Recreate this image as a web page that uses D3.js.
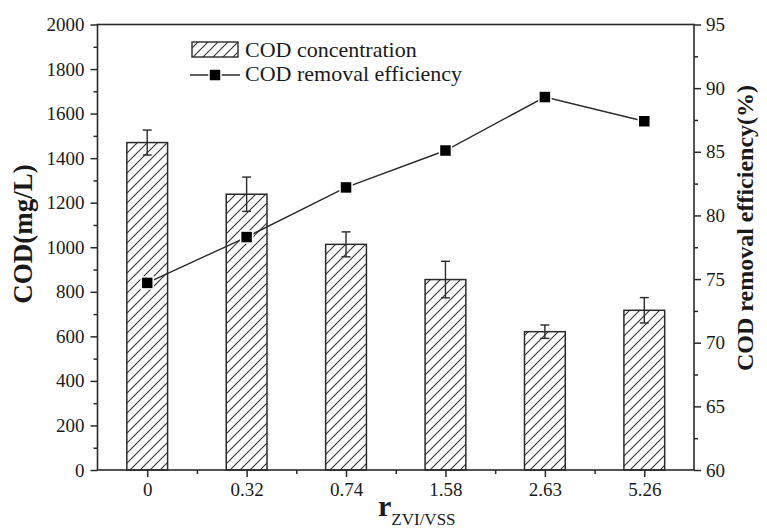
<!DOCTYPE html>
<html>
<head>
<meta charset="utf-8">
<script src="https://cdn.jsdelivr.net/npm/d3@7"></script>
<style>
  body { margin: 0; background: #fff; }
  svg { display: block; }
  text { font-family: "Liberation Serif", "Times New Roman", serif; fill: #1a1a1a; }
</style>
</head>
<body>
<div id="chart-area"></div>
<script>
// data
const categories = ["0", "0.32", "0.74", "1.58", "2.63", "5.26"]
const codValues = [1470, 1238, 1013, 855, 621, 717]
const codErrors = [56, 77, 56, 82, 30, 57]
const removalValues = [74.7, 78.3, 82.2, 85.1, 89.3, 87.4]
const leftTicks = [0, 200, 400, 600, 800, 1000, 1200, 1400, 1600, 1800, 2000]
const rightTicks = [60, 65, 70, 75, 80, 85, 90, 95]

const svgWidth = 767
const svgHeight = 529
const plot = { left: 97.5, right: 694, top: 24.5, bottom: 470 }
const ink = "#2a2a2a"
const serif = "Liberation Serif, Times New Roman, serif"

const svg = d3.select("#chart-area")
  .append("svg")
  .attr("width", svgWidth)
  .attr("height", svgHeight)
  .attr("font-family", serif)

// hatch for the bars
svg.append("defs").append("pattern")
  .attr("id", "hatch")
  .attr("patternUnits", "userSpaceOnUse")
  .attr("width", 10)
  .attr("height", 10)
  .call(p => p.append("rect").attr("width", 10).attr("height", 10).attr("fill", "#fff"))
  .call(p => p.append("path")
    .attr("d", "M-2,2 L2,-2 M0,10 L10,0 M8,12 L12,8")
    .attr("stroke", "#333")
    .attr("stroke-width", 1.1))

const xScale = d3.scaleLinear()
  .domain([-0.5, categories.length - 0.5])
  .range([plot.left, plot.right])

const yScale = d3.scaleLinear()
  .domain([0, 2000])
  .range([plot.bottom, plot.top])

const y2Scale = d3.scaleLinear()
  .domain([60, 95])
  .range([plot.bottom, plot.top])

const barWidth = xScale(0.41) - xScale(0)

// bars
svg.append("g")
  .selectAll("rect")
  .data(codValues)
  .join("rect")
  .attr("x", (d, i) => xScale(i) - barWidth / 2)
  .attr("y", d => yScale(d))
  .attr("width", barWidth)
  .attr("height", d => yScale(0) - yScale(d))
  .attr("fill", "url(#hatch)")
  .attr("stroke", ink)
  .attr("stroke-width", 1.5)

// error bars
const err = svg.append("g")
  .attr("stroke", ink)
  .attr("stroke-width", 1.4)
  .selectAll("g")
  .data(codValues)
  .join("g")

err.append("line")
  .attr("x1", (d, i) => xScale(i))
  .attr("x2", (d, i) => xScale(i))
  .attr("y1", (d, i) => yScale(d + codErrors[i]))
  .attr("y2", (d, i) => yScale(d - codErrors[i]))

err.append("line")
  .attr("x1", (d, i) => xScale(i) - 4.5)
  .attr("x2", (d, i) => xScale(i) + 4.5)
  .attr("y1", (d, i) => yScale(d + codErrors[i]))
  .attr("y2", (d, i) => yScale(d + codErrors[i]))

err.append("line")
  .attr("x1", (d, i) => xScale(i) - 4.5)
  .attr("x2", (d, i) => xScale(i) + 4.5)
  .attr("y1", (d, i) => yScale(d - codErrors[i]))
  .attr("y2", (d, i) => yScale(d - codErrors[i]))

// removal efficiency line
const line = d3.line()
  .x((d, i) => xScale(i))
  .y(d => y2Scale(d))

svg.append("path")
  .datum(removalValues)
  .attr("d", line)
  .attr("fill", "none")
  .attr("stroke", ink)
  .attr("stroke-width", 1.4)

svg.append("g")
  .selectAll("rect")
  .data(removalValues)
  .join("rect")
  .attr("x", (d, i) => xScale(i) - 6)
  .attr("y", d => y2Scale(d) - 6)
  .attr("width", 12)
  .attr("height", 12)
  .attr("fill", "#000")
  .attr("stroke", "#fff")
  .attr("stroke-width", 1.5)

// frame
svg.append("rect")
  .attr("x", plot.left)
  .attr("y", plot.top)
  .attr("width", plot.right - plot.left)
  .attr("height", plot.bottom - plot.top)
  .attr("fill", "none")
  .attr("stroke", ink)
  .attr("stroke-width", 1.6)

function styleAxis(g) {
  g.attr("font-family", serif).attr("font-size", 19)
  g.select(".domain").remove()
  g.selectAll("line").attr("stroke", ink).attr("stroke-width", 1.5)
  g.selectAll("text").attr("fill", "#1a1a1a")
}

// left axis
svg.append("g")
  .attr("transform", `translate(${plot.left},0)`)
  .call(d3.axisLeft(yScale).tickValues(leftTicks).tickFormat(d3.format("d")).tickSize(7).tickPadding(6))
  .call(styleAxis)

svg.append("g")
  .attr("transform", `translate(${plot.left},0)`)
  .call(d3.axisLeft(yScale).tickValues(leftTicks.slice(1).map(d => d - 100)).tickSize(4).tickFormat(""))
  .call(styleAxis)

// right axis
svg.append("g")
  .attr("transform", `translate(${plot.right},0)`)
  .call(d3.axisRight(y2Scale).tickValues(rightTicks).tickSize(7).tickPadding(5))
  .call(styleAxis)

svg.append("g")
  .attr("transform", `translate(${plot.right},0)`)
  .call(d3.axisRight(y2Scale).tickValues(rightTicks.slice(1).map(d => d - 2.5)).tickSize(4).tickFormat(""))
  .call(styleAxis)

// bottom axis
svg.append("g")
  .attr("transform", `translate(0,${plot.bottom})`)
  .call(d3.axisBottom(xScale).tickValues(d3.range(categories.length))
    .tickFormat(i => categories[i]).tickSize(7).tickPadding(6))
  .call(styleAxis)

svg.append("g")
  .attr("transform", `translate(0,${plot.bottom})`)
  .call(d3.axisBottom(xScale).tickValues(d3.range(categories.length - 1).map(i => i + 0.5))
    .tickSize(4).tickFormat(""))
  .call(styleAxis)

// axis titles
svg.append("text")
  .attr("transform", `translate(32,234) rotate(-90)`)
  .attr("text-anchor", "middle")
  .attr("font-size", 27)
  .attr("font-weight", "bold")
  .text("COD(mg/L)")

svg.append("text")
  .attr("transform", `translate(753,228) rotate(-90)`)
  .attr("text-anchor", "middle")
  .attr("font-size", 24)
  .attr("font-weight", "bold")
  .text("COD removal efficiency(%)")

const xTitle = svg.append("text")
  .attr("x", 378)
  .attr("y", 516)
  .attr("font-size", 30)
  .attr("font-weight", "bold")

xTitle.append("tspan").text("r")
xTitle.append("tspan")
  .attr("font-size", 17)
  .attr("font-weight", "normal")
  .attr("dy", 9)
  .text("ZVI/VSS")

// legend
const legend = svg.append("g")

legend.append("rect")
  .attr("x", 192)
  .attr("y", 42)
  .attr("width", 46)
  .attr("height", 15)
  .attr("fill", "url(#hatch)")
  .attr("stroke", ink)
  .attr("stroke-width", 1.4)

legend.append("text")
  .attr("x", 245)
  .attr("y", 57)
  .attr("font-size", 22)
  .text("COD concentration")

legend.append("line")
  .attr("x1", 190)
  .attr("x2", 240)
  .attr("y1", 75)
  .attr("y2", 75)
  .attr("stroke", ink)
  .attr("stroke-width", 1.4)

legend.append("rect")
  .attr("x", 209)
  .attr("y", 69)
  .attr("width", 12)
  .attr("height", 12)
  .attr("fill", "#000")
  .attr("stroke", "#fff")
  .attr("stroke-width", 1.5)

legend.append("text")
  .attr("x", 245)
  .attr("y", 81)
  .attr("font-size", 22)
  .text("COD removal efficiency")
</script>
</body>
</html>
